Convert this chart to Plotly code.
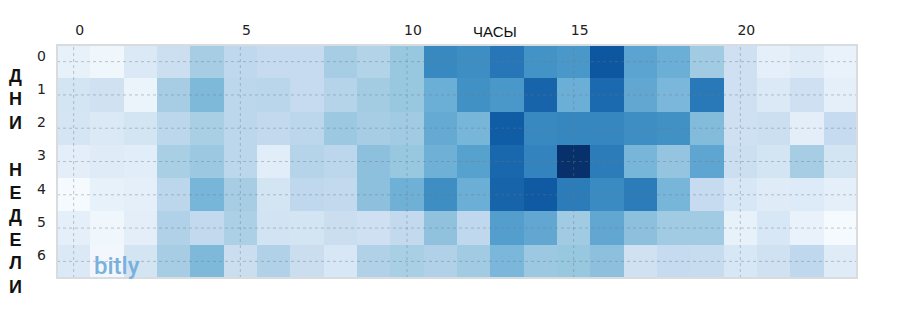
import plotly.graph_objects as go

hours = list(range(24))
days = list(range(7))
x_tick_vals = [0, 5, 10, 15, 20]
x_title = "ЧАСЫ"
y_title = "ДНИ НЕДЕЛИ"

day0 = [8, 4, 14, 22, 35, 27, 25, 25, 35, 31, 39, 66, 64, 73, 62, 60, 85, 55, 50, 37, 21, 9, 12, 7]
day1 = [18, 20, 6, 35, 45, 28, 29, 25, 30, 36, 39, 50, 63, 60, 80, 50, 78, 53, 46, 72, 21, 14, 21, 9]
day2 = [17, 14, 18, 28, 34, 28, 26, 28, 38, 35, 37, 52, 47, 83, 66, 67, 67, 64, 63, 44, 21, 22, 10, 25]
day3 = [10, 12, 11, 34, 38, 28, 11, 30, 28, 42, 39, 49, 56, 79, 68, 100, 71, 47, 40, 54, 22, 18, 35, 18]
day4 = [1, 8, 9, 28, 47, 35, 18, 27, 26, 42, 49, 64, 50, 80, 84, 71, 65, 71, 47, 25, 16, 12, 13, 9]
day5 = [9, 4, 10, 32, 26, 33, 19, 18, 23, 21, 26, 41, 27, 57, 53, 37, 53, 42, 37, 37, 8, 16, 7, 1]
day6 = [14, 3, 18, 35, 45, 23, 32, 23, 16, 32, 34, 32, 37, 46, 38, 39, 42, 20, 25, 24, 16, 20, 27, 12]

z = [day0, day1, day2, day3, day4, day5, day6]

blues = [
    [0.0, "rgb(247,251,255)"], [0.125, "rgb(222,235,247)"], [0.25, "rgb(198,219,239)"],
    [0.375, "rgb(158,202,225)"], [0.5, "rgb(107,174,214)"], [0.625, "rgb(66,146,198)"],
    [0.75, "rgb(33,113,181)"], [0.875, "rgb(8,81,156)"], [1.0, "rgb(8,48,107)"],
]

fig = go.Figure(go.Heatmap(
    z=z, x=hours, y=days, colorscale=blues, zmin=0, zmax=100,
    showscale=False, hoverinfo="x+y+z",
))

grid_style = dict(color="rgba(110,120,130,0.4)", width=1, dash="dot")
shapes = []
for xv in x_tick_vals:
    shapes.append(dict(type="line", xref="x", yref="paper", x0=xv, x1=xv, y0=0, y1=1,
                       line=grid_style, layer="above"))
for yv in days:
    shapes.append(dict(type="line", xref="paper", yref="y", x0=0, x1=1, y0=yv, y1=yv,
                       line=grid_style, layer="above"))
shapes.append(dict(type="rect", xref="paper", yref="paper", x0=0, x1=1, y0=0, y1=1,
                   line=dict(color="#d8dcdf", width=2), layer="above"))

tick_font = dict(family="DejaVu Sans", size=14, color="#222")

fig.update_layout(
    width=900, height=330,
    margin=dict(l=57, r=43, t=45, b=52),
    paper_bgcolor="white", plot_bgcolor="white",
    shapes=shapes,
    xaxis=dict(side="top", range=[-0.5, 23.5], tickvals=x_tick_vals,
               showgrid=False, zeroline=False, showline=False, ticks="",
               tickfont=tick_font, ticklabelstandoff=6, ticklabelshift=6, automargin=False),
    yaxis=dict(range=[6.5, -0.5], tickvals=days,
               showgrid=False, zeroline=False, showline=False, ticks="",
               tickfont=tick_font, ticklabelstandoff=10, ticklabelshift=6, automargin=False),
    annotations=[
        dict(text=x_title, xref="paper", yref="paper", x=(495 - 57) / 800, y=1,
             yshift=14, xanchor="center", yanchor="middle", showarrow=False,
             font=dict(family="Liberation Sans", size=15, color="#111")),
        dict(text="<br>".join(ch if ch != " " else "\u00a0" for ch in y_title),
             xref="paper", yref="paper", x=(15 - 57) / 800, y=(278 - 181) / 233,
             xanchor="center", yanchor="middle", showarrow=False,
             font=dict(family="Liberation Sans", size=18, color="#111", weight="bold")),
        dict(text="bitly", xref="paper", yref="paper", x=(92 - 57) / 800, y=0,
             yshift=-4, xanchor="left", yanchor="bottom", showarrow=False,
             font=dict(family="Roboto", size=24, color="rgb(122,176,220)", weight=500)),
    ],
)

fig.write_html("out.html", config={"displayModeBar": False},
               post_script="document.body.style.margin='0';")
